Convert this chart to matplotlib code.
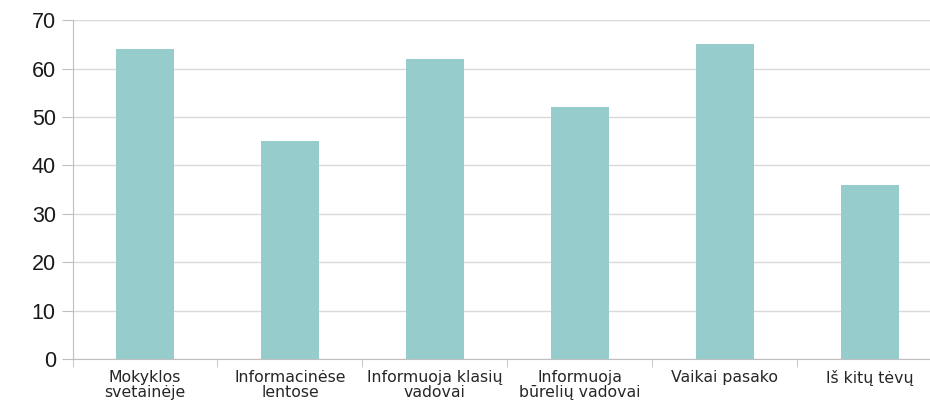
import numpy as np
import matplotlib
matplotlib.use("Agg")
import matplotlib.pyplot as plt

categories = ["Mokyklos\nsvetainėje", "Informacinėse\nlentose", "Informuoja klasių\nvadovai",
              "Informuoja\nbūrelių vadovai", "Vaikai pasako", "Iš kitų tėvų"]
values = [64, 45, 62, 52, 65, 36]

plt.rcParams['font.family'] = ['Liberation Sans', 'DejaVu Sans']

fig = plt.figure(figsize=(9.3, 4.03), dpi=100)
# plot area runs a little past the right edge of the picture, as in the original
ax = fig.add_axes([0.078, 0.109, 0.935, 0.841])

x = np.arange(len(categories))
ax.bar(x, values, width=0.4, color='#96cccb', zorder=3)

ax.set_xlim(-0.5, len(categories) - 0.5)
ax.set_ylim(0, 70)
ax.set_yticks(np.arange(0, 71, 10))
ax.tick_params(axis='y', labelsize=15.5, length=8, color='#bfbfbf', pad=4, labelcolor='#1a1a1a')
ax.yaxis.grid(True, color='#d9d9d9', linewidth=1, zorder=0)

ax.set_xticks(x)
# the labels in the original are wide, so a wider face is used for them
ax.set_xticklabels(categories, fontsize=11.3, color='#262626', linespacing=1.0,
                   family=['DejaVu Sans'])
ax.set_xticks(np.arange(-0.5, len(categories)), minor=True)
ax.tick_params(axis='x', which='major', length=0, pad=8)
ax.tick_params(axis='x', which='minor', length=6, color='#bfbfbf')

for s in ['top', 'right']:
    ax.spines[s].set_visible(False)
for s in ['left', 'bottom']:
    ax.spines[s].set_color('#bfbfbf')

fig.savefig("out.png", dpi=100)
